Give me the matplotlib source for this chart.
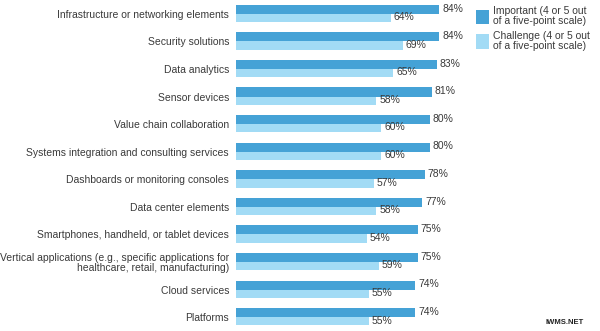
import numpy as np
import matplotlib.pyplot as plt

plt.rcParams['font.family'] = ['Liberation Sans', 'DejaVu Sans']

categories = [
    "Infrastructure or networking elements",
    "Security solutions",
    "Data analytics",
    "Sensor devices",
    "Value chain collaboration",
    "Systems integration and consulting services",
    "Dashboards or monitoring consoles",
    "Data center elements",
    "Smartphones, handheld, or tablet devices",
    "Vertical applications (e.g., specific applications for\nhealthcare, retail, manufacturing)",
    "Cloud services",
    "Platforms",
]
important = [84, 84, 83, 81, 80, 80, 78, 77, 75, 75, 74, 74]
challenge = [64, 69, 65, 58, 60, 60, 57, 58, 54, 59, 55, 55]
series_names = ["Important (4 or 5 out\nof a five-point scale)",
                "Challenge (4 or 5 out\nof a five-point scale)"]

dark = "#45a2d6"
light = "#a2dbf5"
txt = "#3a3a3a"

fig = plt.figure(figsize=(6.0, 3.31), dpi=100)
ax = fig.add_axes([236 / 600, 0, 242 / 600, 1])

y = np.arange(len(categories))
# dark bar sits just above the row centre, light bar just below, touching
ax.barh(y - 0.165, important, height=0.33, color=dark, label=series_names[0])
ax.barh(y + 0.15, challenge, height=0.30, color=light, label=series_names[1])

for i in range(len(categories)):
    ax.text(important[i] + 1.2, y[i] - 0.19, f"{important[i]}%", va="center",
            ha="left", fontsize=7.5, color=txt)
    ax.text(challenge[i] + 1.2, y[i] + 0.12, f"{challenge[i]}%", va="center",
            ha="left", fontsize=7.5, color=txt)

ax.set_xlim(0, 100)
ax.set_ylim(len(categories) - 0.5, -0.5)
ax.set_yticks(y)
ax.set_yticklabels(categories, fontsize=7.5, color=txt, linespacing=1.0)
ax.tick_params(axis="y", length=0, pad=5)
ax.set_xticks([])
for s in ax.spines.values():
    s.set_visible(False)

leg = fig.legend(loc="upper left", bbox_to_anchor=(470 / 600, 1.0), frameon=False,
                 fontsize=7.5, handlelength=1.2, handleheight=1.7,
                 handletextpad=0.4, labelspacing=0.5, borderaxespad=0.2)
for t in leg.get_texts():
    t.set_color(txt)
    t.set_linespacing(0.95)

fig.text(584 / 600, 1 - 322 / 331, "IWMS.NET", ha="right", va="center",
         fontsize=5.5, fontweight="bold", color="#222222")

fig.savefig("out.png", dpi=100)
